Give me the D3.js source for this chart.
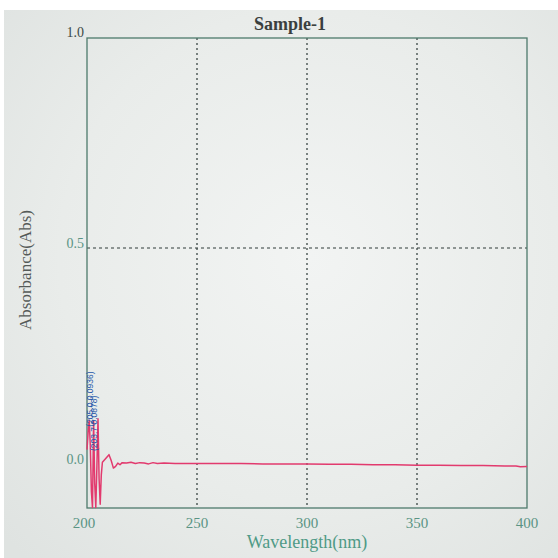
<!DOCTYPE html>
<html>
<head>
<meta charset="utf-8">
<script src="https://cdn.jsdelivr.net/npm/d3@7"></script>
<style>
  html, body { margin: 0; padding: 0; background: #ffffff; }
  svg { display: block; }
</style>
</head>
<body>
<svg id="chart" width="558" height="558"></svg>
<script>
// ---- data ----
const title = "Sample-1";
const xTicks = [200, 250, 300, 350, 400];
const yTicks = [0.0, 0.5, 1.0];
const yTickLabels = ["0.0", "0.5", "1.0"];
const xGrid = [250, 300, 350];
const yGrid = [0.5];
const wavelength = [200.0, 200.5, 201.0, 201.5, 202.0, 202.5, 203.0, 203.5, 204.0, 204.5,
  205.0, 205.5, 206.0, 206.5, 207.0, 208.0, 209.0, 210.0, 211.0, 212.0, 213.0, 214.0, 215.0,
  216.0, 218.0, 220.0, 222.0, 224.0, 226.0, 228.0, 230.0, 232.0, 235.0, 240.0, 245.0, 250.0,
  260.0, 270.0, 280.0, 290.0, 300.0, 310.0, 320.0, 330.0, 340.0, 350.0, 360.0, 370.0, 380.0,
  390.0, 395.0, 397.0, 400.0];
const absorbance = [0.020, 0.060, 0.090, 0.030, -0.080, -0.118, 0.088, -0.060, -0.118, -0.020,
  0.0936, -0.050, -0.110, -0.040, -0.010, -0.004, 0.002, 0.008, -0.006, -0.024, -0.020, -0.012,
  -0.016, -0.011, -0.012, -0.010, -0.013, -0.011, -0.012, -0.014, -0.011, -0.013, -0.012, -0.013,
  -0.013, -0.013, -0.013, -0.013, -0.014, -0.014, -0.014, -0.015, -0.015, -0.016, -0.016, -0.017,
  -0.017, -0.018, -0.018, -0.019, -0.019, -0.021, -0.020];
const peakLabels = ["(205.0 0.0936)", "(203.7 0.0878)"];
const peakX = [205.0, 203.0];
const peakY = [0.0936, 0.088];

// ---- layout ----
const svg = d3.select("#chart");
const W = 558, H = 558;
const m = { left: 87, right: 527, top: 38, bottom: 508 };

const defs = svg.append("defs");
const rg = defs.append("radialGradient").attr("id", "bg").attr("cx", "55%").attr("cy", "45%").attr("r", "75%");
rg.append("stop").attr("offset", "0%").attr("stop-color", "#f2f4f3");
rg.append("stop").attr("offset", "60%").attr("stop-color", "#e9ecea");
rg.append("stop").attr("offset", "100%").attr("stop-color", "#dfe3e1");

svg.append("rect").attr("x", 0).attr("y", 0).attr("width", W).attr("height", H).attr("fill", "#ffffff");
svg.append("rect").attr("x", 4).attr("y", 10).attr("width", W - 4).attr("height", H - 10).attr("fill", "url(#bg)");

const x = d3.scaleLinear().domain([200, 400]).range([m.left, m.right]);
const y = d3.scaleLinear().domain([-0.119, 1.0]).range([m.bottom, m.top]);

// grid
svg.append("g").selectAll("line").data(xGrid).join("line")
  .attr("x1", d => x(d)).attr("x2", d => x(d))
  .attr("y1", m.top).attr("y2", m.bottom)
  .attr("stroke", "#2e3a38").attr("stroke-width", 1.2).attr("stroke-dasharray", "2,3");
svg.append("g").selectAll("line").data(yGrid).join("line")
  .attr("x1", m.left).attr("x2", m.right)
  .attr("y1", d => y(d)).attr("y2", d => y(d))
  .attr("stroke", "#2e3a38").attr("stroke-width", 1).attr("stroke-dasharray", "3,3");

// frame
svg.append("rect").attr("x", m.left).attr("y", m.top)
  .attr("width", m.right - m.left).attr("height", m.bottom - m.top)
  .attr("fill", "none").attr("stroke", "#4d7a6c").attr("stroke-width", 1.3);

// spectrum
const line = d3.line().x((d, i) => x(wavelength[i])).y(d => y(d));
svg.append("path").datum(absorbance)
  .attr("d", line)
  .attr("fill", "none").attr("stroke", "#e23a6e").attr("stroke-width", 1.5)
  .attr("stroke-linejoin", "round");

// peak labels
svg.append("g").selectAll("text").data(peakLabels).join("text")
  .attr("transform", (d, i) => `translate(${x(peakX[i]) + (i === 0 ? -5 : 3)},${y(peakY[i]) + (i === 0 ? 8 : 30)}) rotate(-90)`)
  .attr("font-family", "Liberation Sans, Arial, sans-serif")
  .attr("font-size", 8.5).attr("fill", "#2456a8")
  .text(d => d);

// x tick labels
const serif = "Liberation Serif, Times New Roman, serif";
svg.append("g").selectAll("text").data(xTicks).join("text")
  .attr("x", d => x(d) - (d === 200 ? 3 : 0)).attr("y", 528)
  .attr("text-anchor", "middle")
  .attr("font-family", serif).attr("font-size", 15).attr("fill", "#5a9484")
  .text(d => d);

// y tick labels
svg.append("g").selectAll("text").data(yTicks).join("text")
  .attr("x", m.left - 3).attr("y", (d, i) => y(d) + (d === 1.0 ? -1 : (d === 0.5 ? 0 : 6)))
  .attr("text-anchor", "end")
  .attr("font-family", serif).attr("font-size", 14)
  .attr("fill", (d) => d === 1.0 ? "#3c4a46" : "#5a9484")
  .text((d, i) => yTickLabels[i]);

// title
svg.append("text").attr("x", 290).attr("y", 30).attr("text-anchor", "middle")
  .attr("font-family", serif).attr("font-size", 18).attr("font-weight", "bold")
  .attr("fill", "#3a3f3e").text(title);

// axis titles
svg.append("text").attr("x", 307).attr("y", 548).attr("text-anchor", "middle")
  .attr("font-family", serif).attr("font-size", 18).attr("fill", "#4f9a86")
  .text("Wavelength(nm)");
svg.append("text")
  .attr("transform", `translate(31,270) rotate(-90)`)
  .attr("text-anchor", "middle")
  .attr("font-family", serif).attr("font-size", 17).attr("fill", "#555a58")
  .text("Absorbance(Abs)");
</script>
</body>
</html>
